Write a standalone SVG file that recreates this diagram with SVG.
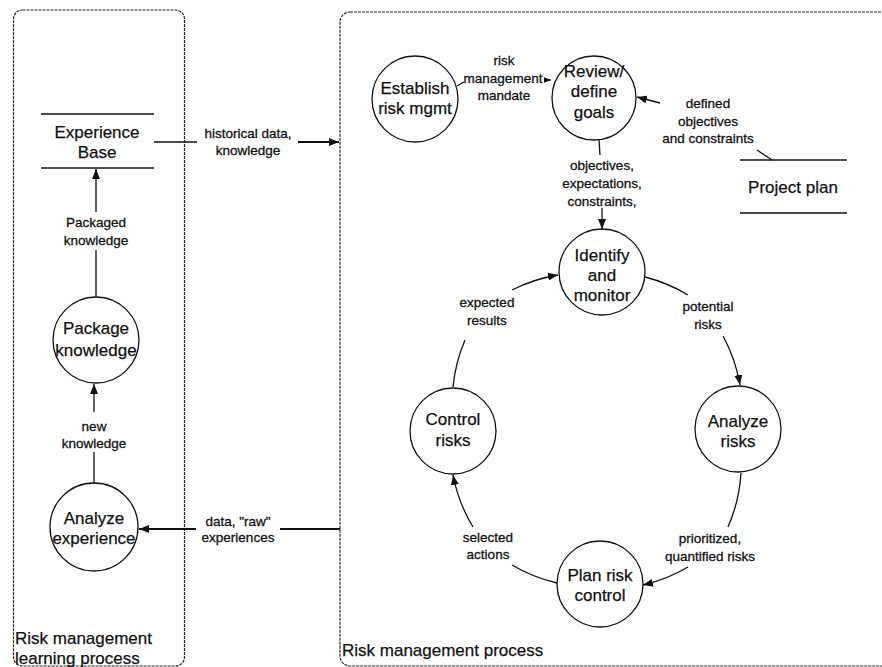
<svg xmlns="http://www.w3.org/2000/svg" width="882" height="667" viewBox="0 0 882 667">
<style>
.box{fill:none;stroke:#222;stroke-width:1.2;stroke-dasharray:3 1}
.node{fill:#fff;stroke:#111;stroke-width:1.3}
.store{stroke:#111;stroke-width:1.5}
.nt{font-family:"Liberation Sans",Arial,sans-serif;font-size:17px;fill:#111;stroke:#111;stroke-width:0.25;text-anchor:middle}
.lt{font-family:"Liberation Sans",Arial,sans-serif;font-size:13.5px;fill:#111;stroke:#111;stroke-width:0.3;text-anchor:middle}
.bt{font-family:"Liberation Sans",Arial,sans-serif;font-size:17px;fill:#111;stroke:#111;stroke-width:0.25}
.c{fill:none;stroke:#111;stroke-width:1.3}
.ct{fill:none;stroke:#111;stroke-width:2}
</style>
<defs>
<marker id="ah" viewBox="0 0 10 8" refX="10" refY="4" markerWidth="10" markerHeight="8" orient="auto" markerUnits="userSpaceOnUse"><path d="M0 0 L10 4 L0 8 z" fill="#111"/></marker>
<marker id="ahs" viewBox="0 0 10 8" refX="10" refY="4" markerWidth="7" markerHeight="6" orient="auto" markerUnits="userSpaceOnUse"><path d="M0 0 L10 4 L0 8 z" fill="#111"/></marker>
</defs>

<g id="learning-process">
<rect class="box" x="13.5" y="10" width="171" height="656" rx="9"/>
<text class="bt" x="15" y="644">Risk management</text>
<text class="bt" x="15" y="664">learning process</text>
</g>
<g id="management-process">
<rect class="box" x="340" y="12" width="570" height="654" rx="10"/>
<text class="bt" x="342" y="656">Risk management process</text>
</g>

<g id="connectors">
<path class="c" d="M154 142 H197"/>
<path class="ct" d="M298 142 H339" marker-end="url(#ah)"/>
<text class="lt" x="248" y="138">historical data,</text>
<text class="lt" x="248" y="155">knowledge</text>

<path class="c" d="M96 297 V250"/>
<path class="c" d="M96 212 V169" marker-end="url(#ah)"/>
<text class="lt" x="96" y="227">Packaged</text>
<text class="lt" x="96" y="245">knowledge</text>

<path class="c" d="M94 483 V452"/>
<path class="c" d="M94 412 V384" marker-end="url(#ah)"/>
<text class="lt" x="94" y="431">new</text>
<text class="lt" x="94" y="448">knowledge</text>

<path class="ct" d="M340 529 H280"/>
<path class="ct" d="M196 529 H139" marker-end="url(#ah)"/>
<text class="lt" x="238" y="526">data, "raw"</text>
<text class="lt" x="238" y="542">experiences</text>

<path class="c" d="M457 86 L464 82"/>
<path class="c" d="M545 80 L551 80" marker-end="url(#ahs)"/>
<text class="lt" x="504" y="65">risk</text>
<text class="lt" x="503" y="83">management</text>
<text class="lt" x="504" y="100">mandate</text>

<path class="c" d="M772 160 L757 150"/>
<path class="c" d="M660 103 L637 97" marker-end="url(#ah)"/>
<text class="lt" x="708" y="108">defined</text>
<text class="lt" x="708" y="126">objectives</text>
<text class="lt" x="708" y="143">and constraints</text>

<path class="c" d="M599 140 L600 155"/>
<path class="c" d="M602 208 L602 229" marker-end="url(#ah)"/>
<text class="lt" x="602" y="170">objectives,</text>
<text class="lt" x="602" y="188">expectations,</text>
<text class="lt" x="602" y="206">constraints,</text>

<path class="c" d="M645 277 A158 158 0 0 1 688 295"/>
<path class="c" d="M723 336 A158 158 0 0 1 740 385" marker-end="url(#ah)"/>
<text class="lt" x="708" y="311">potential</text>
<text class="lt" x="708" y="329">risks</text>

<path class="c" d="M741 473 A158 158 0 0 1 728 527"/>
<path class="c" d="M688 567 A158 158 0 0 1 643 585" marker-end="url(#ah)"/>
<text class="lt" x="710" y="543">prioritized,</text>
<text class="lt" x="710" y="561">quantified risks</text>

<path class="c" d="M557 583 A158 158 0 0 1 512 565"/>
<path class="c" d="M473 527 A158 158 0 0 1 453 475" marker-end="url(#ah)"/>
<text class="lt" x="488" y="542">selected</text>
<text class="lt" x="488" y="559">actions</text>

<path class="c" d="M453 387 A158 158 0 0 1 465 340"/>
<path class="c" d="M512 290 A158 158 0 0 1 558 275" marker-end="url(#ah)"/>
<text class="lt" x="487" y="307">expected</text>
<text class="lt" x="487" y="325">results</text>
</g>

<g id="experience-base">
<line class="store" x1="41" y1="114" x2="154" y2="114"/>
<line class="store" x1="41" y1="168" x2="154" y2="168"/>
<text class="nt" x="97" y="138">Experience</text>
<text class="nt" x="97" y="158">Base</text>
</g>
<g id="package-knowledge">
<circle class="node" cx="96" cy="340" r="43"/>
<text class="nt" x="96" y="334">Package</text>
<text class="nt" x="96" y="356">knowledge</text>
</g>
<g id="analyze-experience">
<circle class="node" cx="94" cy="527" r="44"/>
<text class="nt" x="94" y="524">Analyze</text>
<text class="nt" x="94" y="544">experience</text>
</g>
<g id="establish">
<circle class="node" cx="415" cy="99" r="43"/>
<text class="nt" x="415" y="94">Establish</text>
<text class="nt" x="415" y="114">risk mgmt</text>
</g>
<g id="review-goals">
<circle class="node" cx="594" cy="98" r="42"/>
<text class="nt" x="594" y="77">Review/</text>
<text class="nt" x="594" y="97">define</text>
<text class="nt" x="594" y="118">goals</text>
</g>
<g id="project-plan">
<line class="store" x1="740" y1="160" x2="847" y2="160"/>
<line class="store" x1="740" y1="213" x2="847" y2="213"/>
<text class="nt" x="793" y="193">Project plan</text>
</g>
<g id="identify-monitor">
<circle class="node" cx="602" cy="272" r="43"/>
<text class="nt" x="602" y="261">Identify</text>
<text class="nt" x="602" y="281">and</text>
<text class="nt" x="602" y="301">monitor</text>
</g>
<g id="analyze-risks">
<circle class="node" cx="738" cy="429" r="43"/>
<text class="nt" x="738" y="427">Analyze</text>
<text class="nt" x="738" y="447">risks</text>
</g>
<g id="plan-risk-control">
<circle class="node" cx="600" cy="584" r="43"/>
<text class="nt" x="600" y="581">Plan risk</text>
<text class="nt" x="600" y="601">control</text>
</g>
<g id="control-risks">
<circle class="node" cx="453" cy="431" r="43"/>
<text class="nt" x="453" y="425">Control</text>
<text class="nt" x="453" y="446">risks</text>
</g>
</svg>
